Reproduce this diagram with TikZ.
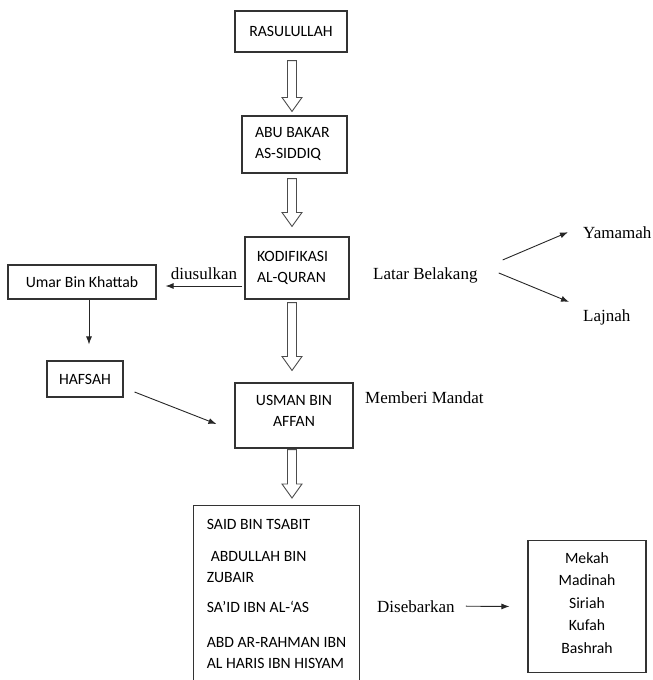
\documentclass[tikz,border=0pt]{standalone}
\usepackage{fontspec}
\setmainfont{Liberation Serif}
\newfontfamily\boxfont{Carlito}
\usetikzlibrary{calc, arrows.meta}

% panah kosong (hollow) di sumbu tengah, dari kotak #1 ke kotak #2
\newcommand{\hollowarrow}[4]{%
  \draw[hollow] ($(#1.south -| axis)+(-4.5,#3)$) -- ($(#2.north -| axis)+(-4.5,-#4-14)$)
    -- ($(#2.north -| axis)+(-10,-#4-14)$) -- ($(#2.north -| axis)+(0,-#4)$)
    -- ($(#2.north -| axis)+(10,-#4-14)$) -- ($(#2.north -| axis)+(4.5,-#4-14)$)
    -- ($(#1.south -| axis)+(4.5,#3)$) -- cycle;}

\begin{document}
\begin{tikzpicture}[
  x=1pt, y=-1pt,
  box/.style={draw=black!80, line width=1.1pt, inner sep=0pt,
    font=\boxfont\fontsize{15.7}{21}\selectfont},
  lbl/.style={font=\fontsize{17}{20}\selectfont, inner sep=2pt},
  arr/.style={-{Latex[length=8pt, width=6pt]}, line width=0.9pt, draw=black!85},
  hollow/.style={draw=black!70, line width=0.9pt, fill=white},
]

% ukuran gambar
\useasboundingbox (0,0) rectangle (653,680);
\clip (0,0) rectangle (653,680);

% kotak utama
\node[box, minimum width=112pt, minimum height=41pt] (rasul) at (291,31.5) {RASULULLAH};
\node[box, minimum height=57pt, text width=79pt, inner xsep=13pt, align=flush left] (abubakar) at (294.5,144.5) {ABU BAKAR\\AS-SIDDIQ};
\node[box, minimum height=62pt, text width=80pt, inner xsep=12pt, align=flush left] (kodif) at (297,268) {KODIFIKASI\\AL-QURAN};
\node[box, minimum width=148pt, minimum height=34pt] (umar) at (82,282) {Umar Bin Khattab};
\node[box, minimum width=76pt, minimum height=36pt] (hafsah) at (85,379) {HAFSAH};
\node[box, minimum width=118pt, minimum height=65pt, align=center] (usman) at (294,415.5) {USMAN BIN\\AFFAN\rule[-10pt]{0pt}{0pt}};

% tim penulis (bawah terpotong)
\node[box, minimum width=166pt, inner ysep=13.5pt, align=left, anchor=north west] (tim) at (193,505)
  {SAID BIN TSABIT\\[11pt]\hspace*{4pt}ABDULLAH BIN\\ZUBAIR\\[9pt]SA’ID IBN AL-‘AS\\[14pt]ABD AR-RAHMAN IBN\\AL HARIS IBN HISYAM\rule[-20pt]{0pt}{0pt}};

% kota tujuan
\node[box, minimum width=118pt, inner ysep=12pt, align=center, anchor=north,
  font=\boxfont\fontsize{15.7}{22.5}\selectfont] (kota) at (587,540)
  {Mekah\\Madinah\\Siriah\\Kufah\\Bashrah\rule[-7pt]{0pt}{0pt}};

% keterangan
\node[lbl, anchor=base west] (latar) at (371,279) {Latar Belakang};
\node[lbl, anchor=base west] (yamamah) at (581,238) {Yamamah};
\node[lbl, anchor=base west] (lajnah) at (581,321) {Lajnah};
\node[lbl, anchor=base west] (mandat) at (363,403) {Memberi Mandat};
\node[lbl, anchor=base west] (disebar) at (375,612) {Disebarkan};

% panah kosong
\coordinate (axis) at (292,0);
\hollowarrow{rasul}{abubakar}{8}{4}
\hollowarrow{abubakar}{kodif}{5}{10}
\hollowarrow{kodif}{usman}{3}{12}
\hollowarrow{usman}{tim}{1}{7}

% panah biasa
\draw[arr] ($(kodif.west)+(-2,18)$) -- ($(umar.east)+(9,4)$)
  node[lbl, midway, above=4pt] (diusulkan) {diusulkan};
\draw[arr] ([xshift=7pt]umar.south) -- ([xshift=4pt, yshift=16pt]hafsah.north);
\draw[arr] ($(hafsah.east)+(11,13)$) -- ($(usman.west)+(-18,8.5)$);
\draw[arr] ($(latar.east)+(23,-15)$) -- ($(yamamah.west)+(-13,0)$);
\draw[arr] ($(latar.east)+(19,-2)$) -- ($(lajnah.west)+(-12,-15)$);
\draw[arr] ($(disebar.east)+(9,0)$) -- ($(kota.west)+(-18,0)$);

\end{tikzpicture}
\end{document}
